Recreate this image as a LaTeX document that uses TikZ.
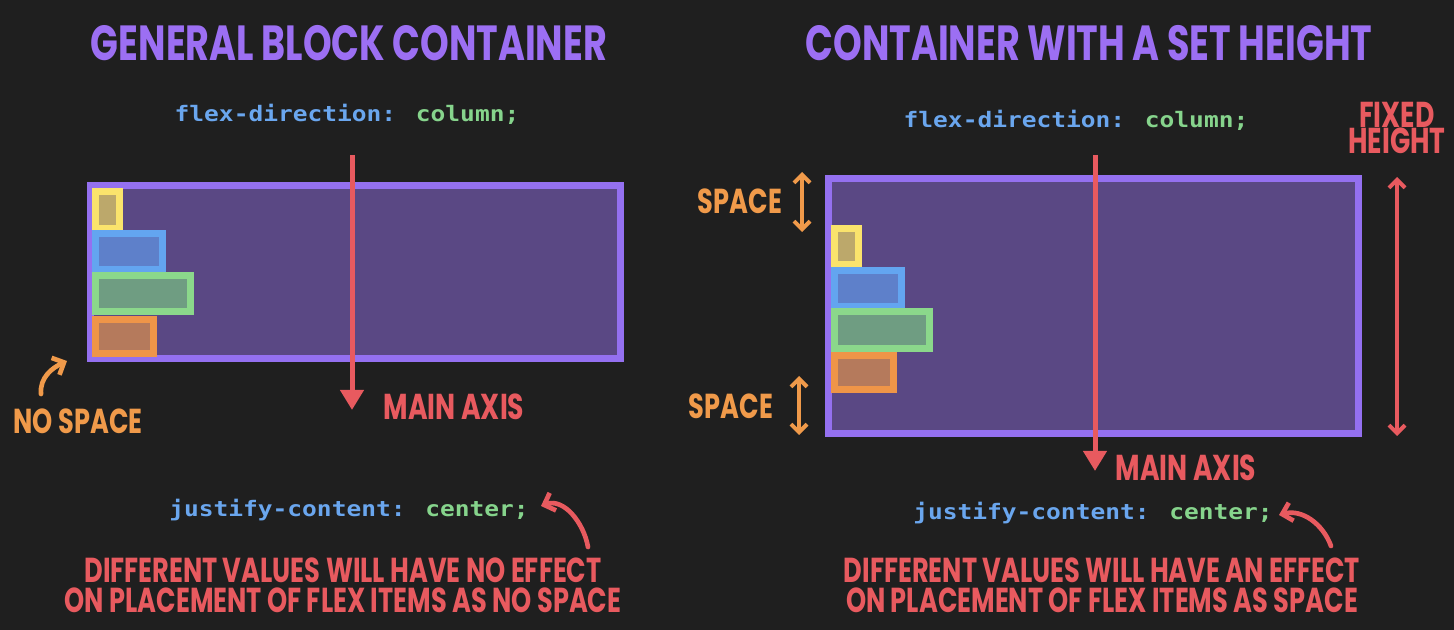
\documentclass[tikz,border=0pt]{standalone}
\usepackage{fontspec}
\usetikzlibrary{arrows.meta}
\newfontfamily\handfont{Poppins}[UprightFont=* Bold, FakeStretch=0.74]
\newfontfamily\codefont{DejaVu Sans Mono}[UprightFont=* Bold, FakeStretch=1.15]
\definecolor{bgdark}{HTML}{1F1F1F}
\definecolor{titlepurple}{HTML}{9C6FF3}
\definecolor{boxpurple}{HTML}{9470F0}
\definecolor{boxfill}{HTML}{5A4884}
\definecolor{axisred}{HTML}{E85A5F}
\definecolor{noteorange}{HTML}{F09A4A}
\definecolor{codeblue}{HTML}{6AA6EE}
\definecolor{codegreen}{HTML}{86D48C}
\definecolor{itemyellow}{HTML}{FAE36C}
\definecolor{itemyellowfill}{HTML}{BCA86B}
\definecolor{itemblue}{HTML}{63A5F0}
\definecolor{itembluefill}{HTML}{5E80CA}
\definecolor{itemgreen}{HTML}{8BD88B}
\definecolor{itemgreenfill}{HTML}{6F9D82}
\definecolor{itemorange}{HTML}{EF9548}
\definecolor{itemorangefill}{HTML}{B57A5C}
\begin{document}
\begin{tikzpicture}[x=0.75pt, y=-0.75pt]
	\tikzstyle{title} = [text=titlepurple, font=\handfont\fontsize{37}{37}\selectfont]
	\tikzstyle{code} = [font=\codefont\fontsize{16}{16}\selectfont]
	\tikzstyle{note} = [font=\handfont\fontsize{26}{26}\selectfont]
	\tikzstyle{remark} = [text=axisred, align=center, font=\handfont\fontsize{26}{22.5}\selectfont]
	\tikzstyle{container} = [draw=boxpurple, fill=boxfill, line width=5.25pt]
	\tikzstyle{item} = [line width=5.25pt]
	\tikzstyle{axis} = [draw=axisred, line width=3.75pt, -{Triangle[length=15pt, width=17pt]}]
	\tikzstyle{span} = [line width=3pt, line cap=round, {Straight Barb[length=6pt, width=12pt]}-{Straight Barb[length=6pt, width=12pt]}]
	\tikzstyle{curl} = [line width=3.5pt, line cap=round, -{Straight Barb[length=7pt, width=14pt]}]
	\fill[bgdark] (0,0) rectangle (1454,630);
	% left: general block container
	\node[title](lefttitle) at (349,43){GENERAL BLOCK CONTAINER};
	\node[code](leftdir) at (347,114){\textcolor{codeblue}{flex-direction:} \textcolor{codegreen}{column;}};
	\draw[container] (90.5,185.5) rectangle (620.5,358.5);
	\draw[item, draw=itemyellow, fill=itemyellowfill] (95.5,191.5) rectangle (119.5,228.5);
	\draw[item, draw=itemblue, fill=itembluefill] (95.5,233.5) rectangle (162.5,269.5);
	\draw[item, draw=itemgreen, fill=itemgreenfill] (95.5,275.5) rectangle (190.5,311.5);
	\draw[item, draw=itemorange, fill=itemorangefill] (95.5,319.5) rectangle (153.5,353.5);
	\coordinate (laxtop) at (352,155);
	\coordinate (laxend) at (352,410);
	\draw[axis] (laxtop) -- (laxend);
	\node[note, text=axisred, font=\handfont\fontsize{27}{27}\selectfont](lmain) at (454,407){MAIN AXIS};
	\node[note, text=noteorange](nospace) at (78,421){NO SPACE};
	\coordinate (nstail) at (41,394);
	\coordinate (nshead) at (67,361);
	\draw[curl, draw=noteorange] (nstail) to[out=95, in=205] (nshead);
	\node[code](leftjust) at (349,510){\textcolor{codeblue}{justify-content:} \textcolor{codegreen}{center;}};
	\coordinate (ljtail) at (588,547);
	\coordinate (ljhead) at (541,506);
	\draw[curl, draw=axisred] (ljtail) to[out=100, in=20] (ljhead);
	\node[remark](leftnote) at (343,585){DIFFERENT VALUES WILL HAVE NO EFFECT\\ON PLACEMENT OF FLEX ITEMS AS NO SPACE};
	% right: container with a set height
	\node[title](righttitle) at (1089,43){CONTAINER WITH A SET HEIGHT};
	\node[code](rightdir) at (1076,120){\textcolor{codeblue}{flex-direction:} \textcolor{codegreen}{column;}};
	\draw[container] (828.5,178.5) rectangle (1358.5,433.5);
	\draw[item, draw=itemyellow, fill=itemyellowfill] (834.5,228.5) rectangle (858.5,264.5);
	\draw[item, draw=itemblue, fill=itembluefill] (834.5,270.5) rectangle (901.5,306.5);
	\draw[item, draw=itemgreen, fill=itemgreenfill] (834.5,311.5) rectangle (929.5,348.5);
	\draw[item, draw=itemorange, fill=itemorangefill] (834.5,355.5) rectangle (893.5,389.5);
	\node[note, text=noteorange](topspace) at (740,201){SPACE};
	\coordinate (tstop) at (802,172);
	\coordinate (tsbot) at (802,232);
	\draw[span, draw=noteorange] (tstop) -- (tsbot);
	\node[note, text=noteorange](botspace) at (731,406){SPACE};
	\coordinate (bstop) at (799,376);
	\coordinate (bsbot) at (799,435);
	\draw[span, draw=noteorange] (bstop) -- (bsbot);
	\node[note, text=axisred, align=center, font=\handfont\fontsize{27}{20}\selectfont](fixed) at (1397,128){FIXED\\HEIGHT};
	\coordinate (fhtop) at (1397,177);
	\coordinate (fhbot) at (1397,436);
	\draw[span, draw=axisred] (fhtop) -- (fhbot);
	\coordinate (raxtop) at (1095,155);
	\coordinate (raxend) at (1095,471);
	\draw[axis] (raxtop) -- (raxend);
	\node[note, text=axisred, font=\handfont\fontsize{27}{27}\selectfont](rmain) at (1186,468){MAIN AXIS};
	\node[code](rightjust) at (1093,513){\textcolor{codeblue}{justify-content:} \textcolor{codegreen}{center;}};
	\coordinate (rjtail) at (1331,546);
	\coordinate (rjhead) at (1279,515);
	\draw[curl, draw=axisred] (rjtail) to[out=110, in=15] (rjhead);
	\node[remark](rightnote) at (1102,585){DIFFERENT VALUES WILL HAVE AN EFFECT\\ON PLACEMENT OF FLEX ITEMS AS SPACE};
\end{tikzpicture}
\end{document}
